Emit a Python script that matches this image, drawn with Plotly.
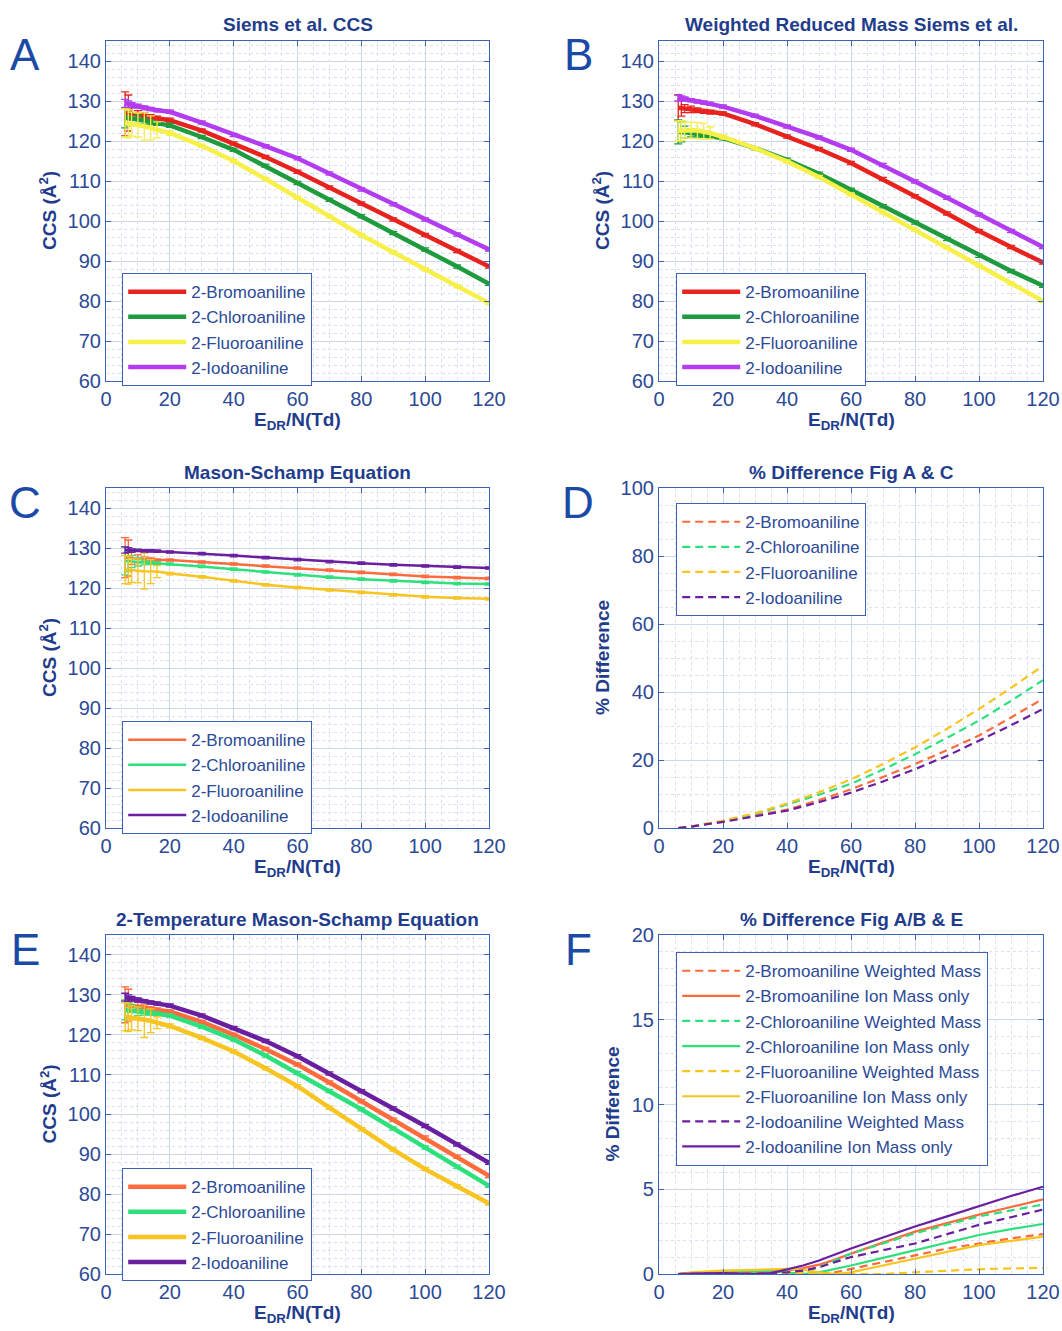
import plotly.graph_objects as go

# ---------------- data ----------------
NAMES = ["2-Bromoaniline", "2-Chloroaniline", "2-Fluoroaniline", "2-Iodoaniline"]
X_CCS = [6, 7, 8, 10, 12, 14, 16, 20, 30, 40, 50, 60, 70, 80, 90, 100, 110, 120]

# Panel A: Siems et al. CCS
A_BR = [126.8, 127.0, 126.8, 126.6, 126.3, 126.0, 125.7, 125.2, 122.6, 119.4, 116.0, 112.3, 108.4, 104.4, 100.4, 96.5, 92.5, 88.6]
A_CL = [125.8, 125.8, 125.6, 125.4, 125.0, 124.7, 124.4, 123.9, 121.0, 117.8, 113.8, 109.5, 105.3, 101.2, 97.0, 92.9, 88.6, 84.3]
A_FL = [124.5, 124.3, 124.2, 124.0, 123.7, 123.3, 122.8, 122.0, 118.8, 115.0, 110.5, 105.8, 101.1, 96.5, 92.2, 87.9, 83.7, 79.5]
A_IO = [129.4, 129.2, 129.0, 128.7, 128.3, 128.0, 127.7, 127.3, 124.6, 121.5, 118.7, 115.7, 111.9, 107.9, 104.2, 100.4, 96.6, 92.9]
A_BR_ERR = [5.5, 4.5, 1.5, 1.0, 0.8, 0.6, 0.5, 0.5, 0.4, 0.4, 0.4, 0.4, 0.4, 0.4, 0.4, 0.4, 0.4, 0.4]
A_CL_ERR = [2.5, 2.0, 1.5, 1.0, 0.8, 0.6, 0.5, 0.5, 0.4, 0.4, 0.4, 0.4, 0.4, 0.4, 0.4, 0.4, 0.4, 0.4]
A_FL_ERR = [3.5, 3.5, 3.0, 3.0, 3.5, 3.0, 2.0, 0.6, 0.4, 0.4, 0.4, 0.4, 0.4, 0.4, 0.4, 0.4, 0.4, 0.4]
A_IO_ERR = [1.0, 0.8, 0.6, 0.5, 0.5, 0.4, 0.4, 0.4, 0.4, 0.4, 0.4, 0.4, 0.4, 0.4, 0.4, 0.4, 0.4, 0.4]

# Panel B: Weighted Reduced Mass Siems et al.
B_BR = [128.3, 128.2, 128.1, 127.9, 127.7, 127.4, 127.2, 126.9, 124.2, 121.1, 118.0, 114.5, 110.5, 106.2, 101.9, 97.5, 93.5, 89.6]
B_CL = [122.3, 122.3, 122.2, 122.0, 121.8, 121.5, 121.2, 120.7, 118.2, 115.3, 111.8, 107.8, 103.7, 99.6, 95.5, 91.3, 87.5, 83.8]
B_FL = [122.5, 122.6, 122.7, 122.7, 122.6, 122.4, 122.0, 121.0, 118.2, 114.9, 111.0, 106.6, 102.2, 97.9, 93.4, 88.8, 84.4, 80.0]
B_IO = [130.8, 130.7, 130.5, 130.2, 129.9, 129.6, 129.3, 128.6, 126.3, 123.6, 120.9, 117.8, 114.0, 109.9, 105.8, 101.6, 97.5, 93.5]
B_BR_ERR = [3.2, 2.0, 1.0, 0.8, 0.6, 0.5, 0.5, 0.4, 0.4, 0.4, 0.4, 0.4, 0.4, 0.4, 0.4, 0.4, 0.4, 0.4]
B_CL_ERR = [3.0, 2.5, 1.5, 1.0, 0.8, 0.6, 0.5, 0.4, 0.4, 0.4, 0.4, 0.4, 0.4, 0.4, 0.4, 0.4, 0.4, 0.4]
B_FL_ERR = [2.5, 2.5, 2.0, 2.0, 2.0, 2.0, 1.5, 0.5, 0.4, 0.4, 0.4, 0.4, 0.4, 0.4, 0.4, 0.4, 0.4, 0.4]
B_IO_ERR = [0.8, 0.6, 0.5, 0.4, 0.4, 0.4, 0.4, 0.4, 0.4, 0.4, 0.4, 0.4, 0.4, 0.4, 0.4, 0.4, 0.4, 0.4]

# Panel C: Mason-Schamp Equation
C_BR = [127.6, 127.5, 127.4, 127.3, 127.2, 127.1, 127.0, 127.0, 126.5, 126.0, 125.5, 125.0, 124.5, 123.9, 123.4, 122.9, 122.6, 122.4]
C_CL = [126.8, 126.7, 126.6, 126.5, 126.4, 126.3, 126.2, 126.0, 125.4, 124.7, 124.0, 123.3, 122.7, 122.2, 121.8, 121.4, 121.1, 121.0]
C_FL = [124.6, 124.5, 124.4, 124.3, 124.2, 124.1, 124.1, 123.6, 122.8, 121.8, 120.8, 120.1, 119.5, 118.9, 118.3, 117.8, 117.5, 117.3]
C_IO = [129.5, 129.5, 129.4, 129.4, 129.3, 129.3, 129.2, 129.0, 128.6, 128.1, 127.6, 127.1, 126.6, 126.2, 125.8, 125.5, 125.2, 125.0]
C_BR_ERR = [5.0, 4.5, 1.5, 1.0, 0.6, 0.4, 0.3, 0.3, 0.3, 0.3, 0.3, 0.3, 0.3, 0.3, 0.3, 0.3, 0.3, 0.3]
C_CL_ERR = [3.5, 2.5, 1.5, 1.0, 0.6, 0.4, 0.3, 0.3, 0.3, 0.3, 0.3, 0.3, 0.3, 0.3, 0.3, 0.3, 0.3, 0.3]
C_FL_ERR = [3.5, 3.5, 3.0, 3.0, 4.5, 3.0, 1.5, 0.3, 0.3, 0.3, 0.3, 0.3, 0.3, 0.3, 0.3, 0.3, 0.3, 0.3]
C_IO_ERR = [0.8, 0.6, 0.4, 0.3, 0.3, 0.3, 0.3, 0.3, 0.3, 0.3, 0.3, 0.3, 0.3, 0.3, 0.3, 0.3, 0.3, 0.3]

# Panel E: 2-Temperature Mason-Schamp Equation
E_BR = [127.5, 127.4, 127.3, 127.1, 126.8, 126.5, 126.2, 125.8, 123.2, 120.0, 116.4, 112.5, 108.0, 103.3, 98.7, 94.2, 89.4, 84.6]
E_CL = [126.2, 126.1, 126.0, 125.8, 125.6, 125.4, 125.2, 124.8, 122.0, 118.8, 114.8, 110.4, 105.9, 101.3, 96.5, 91.7, 86.9, 82.1]
E_FL = [124.5, 124.3, 124.2, 124.0, 123.8, 123.5, 123.0, 122.2, 119.2, 115.8, 111.6, 107.1, 101.7, 96.3, 91.2, 86.3, 82.0, 77.7]
E_IO = [129.4, 129.2, 129.0, 128.7, 128.4, 128.1, 127.8, 127.3, 124.8, 121.7, 118.4, 114.6, 110.3, 105.8, 101.5, 97.1, 92.5, 87.9]
E_BR_ERR = [4.5, 4.0, 1.5, 1.0, 0.7, 0.5, 0.5, 0.4, 0.4, 0.4, 0.4, 0.4, 0.4, 0.4, 0.4, 0.4, 0.4, 0.4]
E_CL_ERR = [2.5, 2.0, 1.5, 1.0, 0.7, 0.5, 0.5, 0.4, 0.4, 0.4, 0.4, 0.4, 0.4, 0.4, 0.4, 0.4, 0.4, 0.4]
E_FL_ERR = [3.5, 3.5, 3.0, 3.0, 4.5, 3.0, 1.5, 0.5, 0.4, 0.4, 0.4, 0.4, 0.4, 0.4, 0.4, 0.4, 0.4, 0.4]
E_IO_ERR = [1.0, 0.8, 0.6, 0.5, 0.4, 0.4, 0.4, 0.4, 0.4, 0.4, 0.4, 0.4, 0.4, 0.4, 0.4, 0.4, 0.4, 0.4]

# Panel D: % difference Fig A & C
X_D = [6, 10, 20, 30, 40, 50, 60, 70, 80, 90, 100, 110, 120]
D_BR = [0, 0.4, 2.0, 3.6, 5.4, 8.2, 11.4, 15.0, 18.8, 22.9, 27.2, 32.5, 38.0]
D_CL = [0, 0.4, 2.0, 4.1, 6.9, 9.8, 13.0, 17.2, 21.7, 26.5, 31.6, 37.4, 43.5]
D_FL = [0, 0.4, 2.2, 4.3, 7.2, 10.5, 14.3, 18.8, 23.7, 29.2, 35.0, 41.2, 47.7]
D_IO = [0, 0.4, 1.8, 3.4, 5.1, 7.6, 10.4, 13.7, 17.3, 21.2, 25.6, 30.2, 35.0]

# Panel F: % difference Fig A/B & E
X_F = [6, 10, 20, 30, 35, 40, 45, 50, 55, 60, 70, 80, 90, 100, 110, 120]
F_BR_W = [0, 0.02, 0.05, 0.05, 0.03, 0.0, 0.0, 0.0, 0.1, 0.3, 0.7, 1.1, 1.5, 1.8, 2.1, 2.35]
F_BR_I = [0, 0.05, 0.1, 0.15, 0.15, 0.2, 0.35, 0.55, 0.85, 1.2, 1.85, 2.5, 3.0, 3.5, 3.95, 4.4]
F_CL_W = [0, 0.03, 0.05, 0.05, 0.05, 0.03, 0.1, 0.4, 0.8, 1.2, 1.8, 2.4, 2.9, 3.4, 3.75, 4.1]
F_CL_I = [0, 0.05, 0.1, 0.15, 0.15, 0.1, 0.0, 0.1, 0.3, 0.5, 0.95, 1.4, 1.85, 2.3, 2.65, 2.95]
F_FL_W = [0, 0.02, 0.05, 0.05, 0.05, 0.05, 0.05, 0.0, 0.0, 0.0, 0.0, 0.1, 0.2, 0.28, 0.33, 0.37]
F_FL_I = [0, 0.1, 0.2, 0.25, 0.28, 0.3, 0.25, 0.1, 0.0, 0.1, 0.5, 0.9, 1.3, 1.7, 1.95, 2.2]
F_IO_W = [0, 0.02, 0.03, 0.02, 0.05, 0.1, 0.2, 0.4, 0.7, 1.0, 1.4, 1.8, 2.35, 2.9, 3.35, 3.8]
F_IO_I = [0, 0.03, 0.05, 0.0, 0.05, 0.28, 0.5, 0.8, 1.15, 1.5, 2.15, 2.8, 3.4, 4.0, 4.6, 5.15]
F_LABELS = ["2-Bromoaniline Weighted Mass", "2-Bromoaniline Ion Mass only",
            "2-Chloroaniline Weighted Mass", "2-Chloroaniline Ion Mass only",
            "2-Fluoroaniline Weighted Mass", "2-Fluoroaniline Ion Mass only",
            "2-Iodoaniline Weighted Mass", "2-Iodoaniline Ion Mass only"]

TITLES = ["Siems et al. CCS", "Weighted Reduced Mass Siems et al.", "Mason-Schamp Equation",
          "% Difference Fig A & C", "2-Temperature Mason-Schamp Equation", "% Difference Fig A/B & E"]
LETTERS = ["A", "B", "C", "D", "E", "F"]

# ---------------- styling ----------------
W, H = 1062, 1331
FONT = "Liberation Sans, Arial, Helvetica, sans-serif"
TXT = "#2c4a96"
TITLE_C = "#1f3d8c"
AXC = "#3d63b4"
GRID = "#cdd8ee"
MINOR = "#d9e1f0"
COL1 = ["#e8231e", "#1e9b3c", "#f6f048", "#b33cf0"]   # A, B
COL2 = ["#ff6b3d", "#2ee07c", "#f8c420", "#6a1fa0"]   # C, D, E, F

def px(x):
    return x / W

def py(y):
    return 1 - y / H

# panel pixel boxes: (left, right, top, bottom)
BOX = [(106, 489, 41, 381), (659, 1043, 41, 381),
       (106, 489, 488, 828), (659, 1043, 488, 828),
       (106, 489, 935, 1274), (659, 1043, 935, 1274)]

fig = go.Figure()

def ax_name(i, kind):
    return kind if i == 0 else f"{kind}{i+1}"

def add_ccs(i, ys, errs, cols, lw):
    for k in range(4):
        fig.add_trace(go.Scatter(
            x=X_CCS, y=ys[k], mode="lines", name=NAMES[k],
            line=dict(color=cols[k], width=lw),
            error_y=dict(type="data", array=errs[k], color=cols[k], thickness=1.3, width=4),
            xaxis=ax_name(i, "x"), yaxis=ax_name(i, "y"),
            legend=ax_name(i, "legend")))

add_ccs(0, [A_BR, A_CL, A_FL, A_IO], [A_BR_ERR, A_CL_ERR, A_FL_ERR, A_IO_ERR], COL1, 4.5)
add_ccs(1, [B_BR, B_CL, B_FL, B_IO], [B_BR_ERR, B_CL_ERR, B_FL_ERR, B_IO_ERR], COL1, 4.5)
add_ccs(2, [C_BR, C_CL, C_FL, C_IO], [C_BR_ERR, C_CL_ERR, C_FL_ERR, C_IO_ERR], COL2, 2.5)
add_ccs(4, [E_BR, E_CL, E_FL, E_IO], [E_BR_ERR, E_CL_ERR, E_FL_ERR, E_IO_ERR], COL2, 4.5)

for k, ys in enumerate([D_BR, D_CL, D_FL, D_IO]):
    fig.add_trace(go.Scatter(
        x=X_D, y=ys, mode="lines", name=NAMES[k],
        line=dict(color=COL2[k], width=2.2, dash="8px,5px"),
        xaxis="x4", yaxis="y4", legend="legend4"))

F_SERIES = [F_BR_W, F_BR_I, F_CL_W, F_CL_I, F_FL_W, F_FL_I, F_IO_W, F_IO_I]
for k, ys in enumerate(F_SERIES):
    fig.add_trace(go.Scatter(
        x=X_F, y=ys, mode="lines", name=F_LABELS[k],
        line=dict(color=COL2[k // 2], width=2.2, dash=("8px,5px" if k % 2 == 0 else "solid")),
        xaxis="x6", yaxis="y6", legend="legend6"))

layout = dict(
    width=W, height=H, margin=dict(l=0, r=0, t=0, b=0, autoexpand=False),
    paper_bgcolor="white", plot_bgcolor="white",
    font=dict(family=FONT, color=TXT, size=18),
    showlegend=True,
)

yranges = [[60, 145], [60, 145], [60, 145], [0, 100], [60, 145], [0, 20]]
ydt = [10, 10, 10, 20, 10, 5]
yminor = [2, 2, 2, 5, 2, 1]

annotations = []
for i, (l, r, t, b) in enumerate(BOX):
    layout[ax_name(i, "xaxis")] = dict(
        domain=[px(l), px(r)], anchor=ax_name(i, "y"), range=[0, 120], dtick=20, tick0=0,
        automargin=False,
        showline=True, linecolor=AXC, linewidth=1.2, mirror="ticks",
        ticks="inside", ticklen=5, tickcolor=AXC, showgrid=True, gridcolor=GRID, gridwidth=1,
        zeroline=False, tickfont=dict(size=20, color=TXT),
        minor=dict(dtick=5, showgrid=True, gridcolor=MINOR, griddash="dot", gridwidth=1))
    layout[ax_name(i, "yaxis")] = dict(
        domain=[py(b), py(t)], anchor=ax_name(i, "x"), range=yranges[i], dtick=ydt[i], tick0=0,
        automargin=False,
        showline=True, linecolor=AXC, linewidth=1.2, mirror="ticks",
        ticks="inside", ticklen=5, tickcolor=AXC, showgrid=True, gridcolor=GRID, gridwidth=1,
        zeroline=False, tickfont=dict(size=20, color=TXT),
        minor=dict(dtick=yminor[i], showgrid=True, gridcolor=MINOR, griddash="dot", gridwidth=1))
    cx = (l + r) / 2
    annotations.append(dict(text=f"<b>{TITLES[i]}</b>", x=px(cx), y=py(t - 16), xref="paper", yref="paper",
                            showarrow=False, font=dict(size=19, color=TITLE_C), xanchor="center", yanchor="middle"))
    annotations.append(dict(text="<b>E<sub>DR</sub>/N(Td)</b>", x=px(cx), y=py(b + 40), xref="paper", yref="paper",
                            showarrow=False, font=dict(size=19, color=TITLE_C), xanchor="center", yanchor="middle"))
    if i in (3, 5):
        ytxt = "<b>% Difference</b>"
        yx = l - 57 if i == 3 else l - 47
    else:
        ytxt = "<b>CCS (Å<sup>2</sup>)</b>"
        yx = l - 58
    annotations.append(dict(text=ytxt, x=px(yx), y=py((t + b) / 2), xref="paper", yref="paper",
                            showarrow=False, textangle=-90, font=dict(size=19, color=TITLE_C),
                            xanchor="center", yanchor="middle"))
    annotations.append(dict(text=LETTERS[i], x=px(l - 81), y=py(t + 14), xref="paper", yref="paper",
                            showarrow=False, font=dict(size=44, color="#1a4aa5"),
                            xanchor="center", yanchor="middle"))

layout["annotations"] = annotations

leg_pos = [(122, 273), (676, 273), (122, 721), (676, 503), (122, 1168), (676, 952)]
for i, (lx, ly) in enumerate(leg_pos):
    layout[ax_name(i, "legend")] = dict(
        x=px(lx), y=py(ly), xanchor="left", yanchor="top", xref="paper", yref="paper",
        bgcolor="white", bordercolor=AXC, borderwidth=1.2,
        font=dict(size=17, color=TXT, family=FONT), itemwidth=58, tracegroupgap=0)

fig.update_layout(**layout)
fig.write_html("out.html", config={"displayModeBar": False},
               post_script="document.body.style.margin='0';")
